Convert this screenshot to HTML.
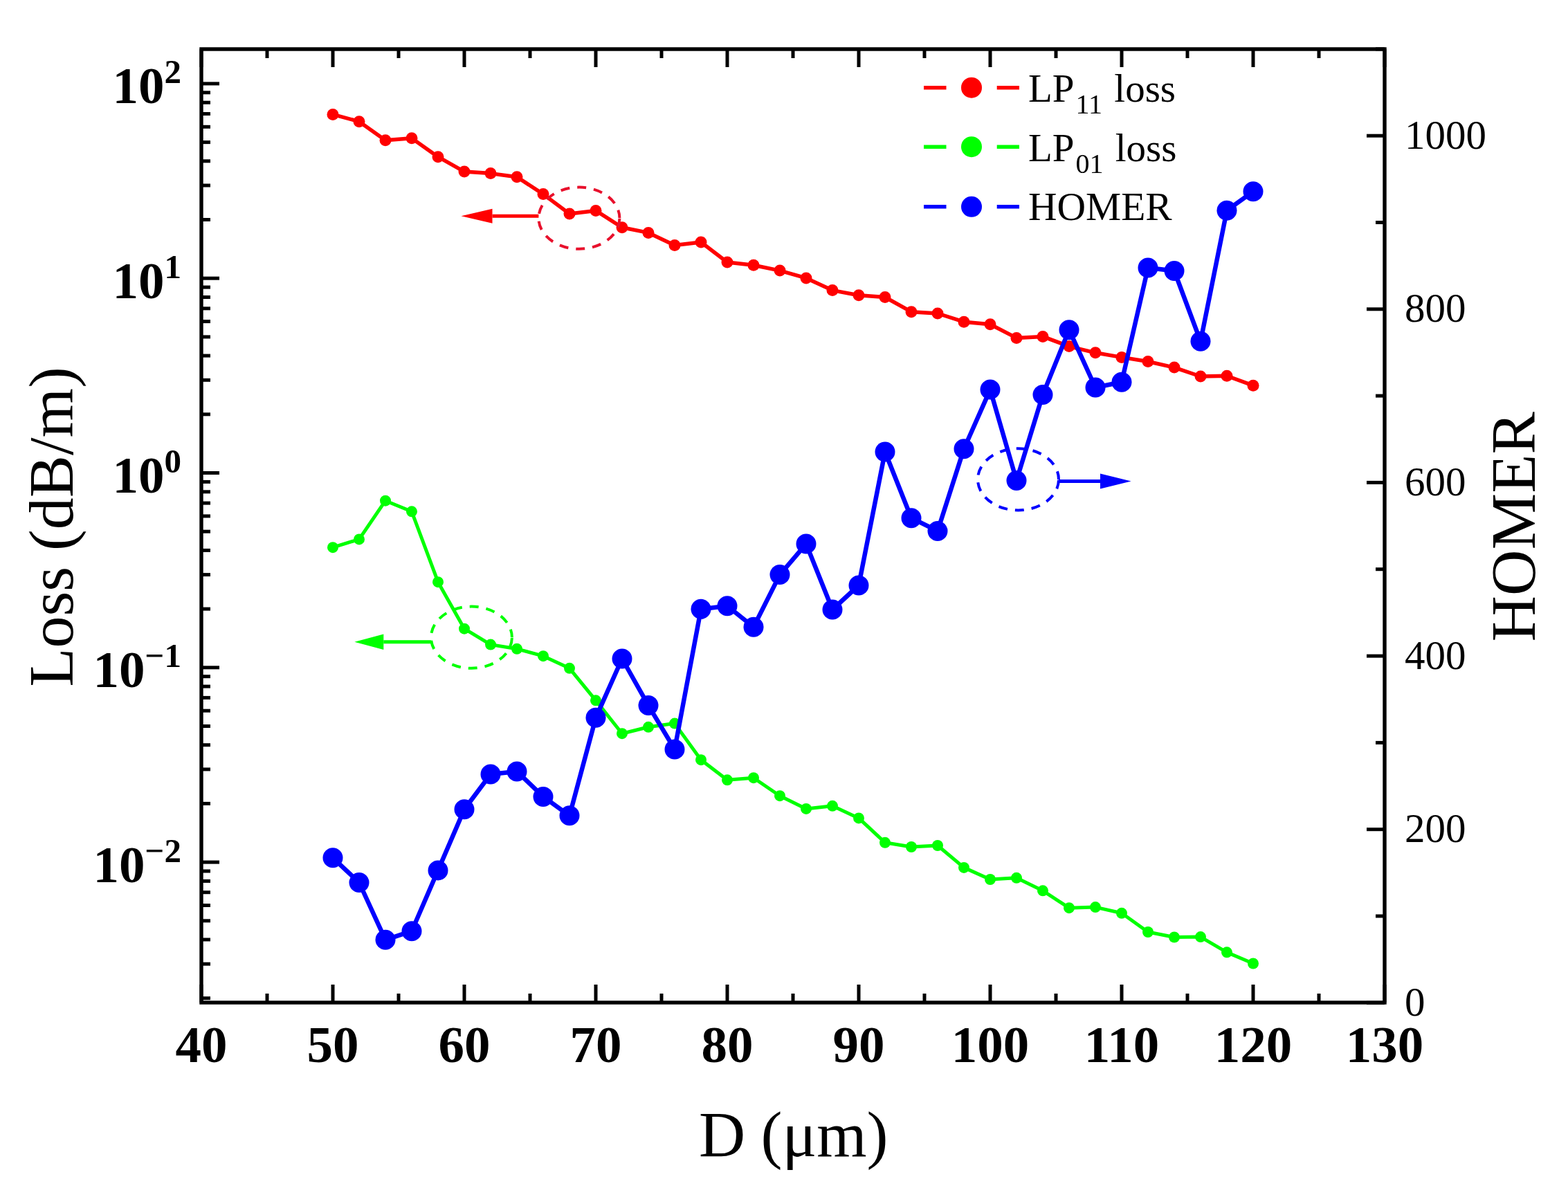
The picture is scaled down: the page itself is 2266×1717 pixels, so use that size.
<!DOCTYPE html>
<html><head><meta charset="utf-8"><title>Loss and HOMER vs D</title>
<style>html,body{margin:0;padding:0;background:#fff;width:2266px;height:1717px;overflow:hidden}svg{display:block}</style>
</head><body>
<svg width="2266" height="1717" viewBox="0 0 2266 1717">
<rect x="0" y="0" width="2266" height="1717" fill="#ffffff"/>
<polyline points="481.0,165.4 519.0,175.7 557.0,202.8 595.0,199.7 633.0,226.7 671.0,248.1 709.0,250.6 747.0,255.8 785.0,280.6 823.0,309.0 861.0,304.4 899.0,328.8 937.0,336.4 975.0,354.5 1013.0,349.9 1051.0,379.0 1089.0,383.2 1127.0,391.1 1165.0,401.9 1203.0,419.6 1241.0,426.8 1279.0,429.5 1317.0,450.7 1355.0,453.0 1393.0,465.2 1431.0,468.8 1469.0,488.4 1507.0,486.4 1545.0,500.6 1583.0,509.8 1621.0,516.4 1659.0,522.5 1697.0,531.1 1735.0,544.0 1773.0,543.3 1811.0,557.2" fill="none" stroke="#ff0000" stroke-width="5.5" stroke-linejoin="round"/>
<circle cx="481.0" cy="165.4" r="8.5" fill="#ff0000"/>
<circle cx="519.0" cy="175.7" r="8.5" fill="#ff0000"/>
<circle cx="557.0" cy="202.8" r="8.5" fill="#ff0000"/>
<circle cx="595.0" cy="199.7" r="8.5" fill="#ff0000"/>
<circle cx="633.0" cy="226.7" r="8.5" fill="#ff0000"/>
<circle cx="671.0" cy="248.1" r="8.5" fill="#ff0000"/>
<circle cx="709.0" cy="250.6" r="8.5" fill="#ff0000"/>
<circle cx="747.0" cy="255.8" r="8.5" fill="#ff0000"/>
<circle cx="785.0" cy="280.6" r="8.5" fill="#ff0000"/>
<circle cx="823.0" cy="309.0" r="8.5" fill="#ff0000"/>
<circle cx="861.0" cy="304.4" r="8.5" fill="#ff0000"/>
<circle cx="899.0" cy="328.8" r="8.5" fill="#ff0000"/>
<circle cx="937.0" cy="336.4" r="8.5" fill="#ff0000"/>
<circle cx="975.0" cy="354.5" r="8.5" fill="#ff0000"/>
<circle cx="1013.0" cy="349.9" r="8.5" fill="#ff0000"/>
<circle cx="1051.0" cy="379.0" r="8.5" fill="#ff0000"/>
<circle cx="1089.0" cy="383.2" r="8.5" fill="#ff0000"/>
<circle cx="1127.0" cy="391.1" r="8.5" fill="#ff0000"/>
<circle cx="1165.0" cy="401.9" r="8.5" fill="#ff0000"/>
<circle cx="1203.0" cy="419.6" r="8.5" fill="#ff0000"/>
<circle cx="1241.0" cy="426.8" r="8.5" fill="#ff0000"/>
<circle cx="1279.0" cy="429.5" r="8.5" fill="#ff0000"/>
<circle cx="1317.0" cy="450.7" r="8.5" fill="#ff0000"/>
<circle cx="1355.0" cy="453.0" r="8.5" fill="#ff0000"/>
<circle cx="1393.0" cy="465.2" r="8.5" fill="#ff0000"/>
<circle cx="1431.0" cy="468.8" r="8.5" fill="#ff0000"/>
<circle cx="1469.0" cy="488.4" r="8.5" fill="#ff0000"/>
<circle cx="1507.0" cy="486.4" r="8.5" fill="#ff0000"/>
<circle cx="1545.0" cy="500.6" r="8.5" fill="#ff0000"/>
<circle cx="1583.0" cy="509.8" r="8.5" fill="#ff0000"/>
<circle cx="1621.0" cy="516.4" r="8.5" fill="#ff0000"/>
<circle cx="1659.0" cy="522.5" r="8.5" fill="#ff0000"/>
<circle cx="1697.0" cy="531.1" r="8.5" fill="#ff0000"/>
<circle cx="1735.0" cy="544.0" r="8.5" fill="#ff0000"/>
<circle cx="1773.0" cy="543.3" r="8.5" fill="#ff0000"/>
<circle cx="1811.0" cy="557.2" r="8.5" fill="#ff0000"/>
<polyline points="481.0,791.2 519.0,779.4 557.0,723.7 595.0,739.3 633.0,841.2 671.0,908.7 709.0,931.6 747.0,937.8 785.0,948.2 823.0,965.8 861.0,1012.3 899.0,1060.2 937.0,1050.8 975.0,1045.6 1013.0,1098.2 1051.0,1127.3 1089.0,1124.2 1127.0,1150.2 1165.0,1168.9 1203.0,1164.8 1241.0,1182.4 1279.0,1217.8 1317.0,1224.0 1355.0,1222.0 1393.0,1253.9 1431.0,1271.0 1469.0,1268.8 1507.0,1287.3 1545.0,1312.2 1583.0,1311.1 1621.0,1319.8 1659.0,1347.0 1697.0,1354.5 1735.0,1354.1 1773.0,1376.3 1811.0,1392.5" fill="none" stroke="#00ff00" stroke-width="5" stroke-linejoin="round"/>
<circle cx="481.0" cy="791.2" r="8" fill="#00ff00"/>
<circle cx="519.0" cy="779.4" r="8" fill="#00ff00"/>
<circle cx="557.0" cy="723.7" r="8" fill="#00ff00"/>
<circle cx="595.0" cy="739.3" r="8" fill="#00ff00"/>
<circle cx="633.0" cy="841.2" r="8" fill="#00ff00"/>
<circle cx="671.0" cy="908.7" r="8" fill="#00ff00"/>
<circle cx="709.0" cy="931.6" r="8" fill="#00ff00"/>
<circle cx="747.0" cy="937.8" r="8" fill="#00ff00"/>
<circle cx="785.0" cy="948.2" r="8" fill="#00ff00"/>
<circle cx="823.0" cy="965.8" r="8" fill="#00ff00"/>
<circle cx="861.0" cy="1012.3" r="8" fill="#00ff00"/>
<circle cx="899.0" cy="1060.2" r="8" fill="#00ff00"/>
<circle cx="937.0" cy="1050.8" r="8" fill="#00ff00"/>
<circle cx="975.0" cy="1045.6" r="8" fill="#00ff00"/>
<circle cx="1013.0" cy="1098.2" r="8" fill="#00ff00"/>
<circle cx="1051.0" cy="1127.3" r="8" fill="#00ff00"/>
<circle cx="1089.0" cy="1124.2" r="8" fill="#00ff00"/>
<circle cx="1127.0" cy="1150.2" r="8" fill="#00ff00"/>
<circle cx="1165.0" cy="1168.9" r="8" fill="#00ff00"/>
<circle cx="1203.0" cy="1164.8" r="8" fill="#00ff00"/>
<circle cx="1241.0" cy="1182.4" r="8" fill="#00ff00"/>
<circle cx="1279.0" cy="1217.8" r="8" fill="#00ff00"/>
<circle cx="1317.0" cy="1224.0" r="8" fill="#00ff00"/>
<circle cx="1355.0" cy="1222.0" r="8" fill="#00ff00"/>
<circle cx="1393.0" cy="1253.9" r="8" fill="#00ff00"/>
<circle cx="1431.0" cy="1271.0" r="8" fill="#00ff00"/>
<circle cx="1469.0" cy="1268.8" r="8" fill="#00ff00"/>
<circle cx="1507.0" cy="1287.3" r="8" fill="#00ff00"/>
<circle cx="1545.0" cy="1312.2" r="8" fill="#00ff00"/>
<circle cx="1583.0" cy="1311.1" r="8" fill="#00ff00"/>
<circle cx="1621.0" cy="1319.8" r="8" fill="#00ff00"/>
<circle cx="1659.0" cy="1347.0" r="8" fill="#00ff00"/>
<circle cx="1697.0" cy="1354.5" r="8" fill="#00ff00"/>
<circle cx="1735.0" cy="1354.1" r="8" fill="#00ff00"/>
<circle cx="1773.0" cy="1376.3" r="8" fill="#00ff00"/>
<circle cx="1811.0" cy="1392.5" r="8" fill="#00ff00"/>
<polyline points="481.0,1239.8 519.0,1275.5 557.0,1358.3 595.0,1345.7 633.0,1257.9 671.0,1169.7 709.0,1119.0 747.0,1114.9 785.0,1151.4 823.0,1178.8 861.0,1037.3 899.0,952.0 937.0,1019.6 975.0,1083.0 1013.0,880.3 1051.0,875.7 1089.0,906.3 1127.0,830.6 1165.0,786.1 1203.0,881.0 1241.0,846.0 1279.0,653.0 1317.0,748.7 1355.0,767.4 1393.0,648.7 1431.0,563.1 1469.0,694.4 1507.0,570.5 1545.0,476.7 1583.0,560.0 1621.0,552.3 1659.0,386.9 1697.0,391.5 1735.0,493.3 1773.0,304.2 1811.0,276.8" fill="none" stroke="#0000ff" stroke-width="6.5" stroke-linejoin="round"/>
<circle cx="481.0" cy="1239.8" r="14.5" fill="#0000ff"/>
<circle cx="519.0" cy="1275.5" r="14.5" fill="#0000ff"/>
<circle cx="557.0" cy="1358.3" r="14.5" fill="#0000ff"/>
<circle cx="595.0" cy="1345.7" r="14.5" fill="#0000ff"/>
<circle cx="633.0" cy="1257.9" r="14.5" fill="#0000ff"/>
<circle cx="671.0" cy="1169.7" r="14.5" fill="#0000ff"/>
<circle cx="709.0" cy="1119.0" r="14.5" fill="#0000ff"/>
<circle cx="747.0" cy="1114.9" r="14.5" fill="#0000ff"/>
<circle cx="785.0" cy="1151.4" r="14.5" fill="#0000ff"/>
<circle cx="823.0" cy="1178.8" r="14.5" fill="#0000ff"/>
<circle cx="861.0" cy="1037.3" r="14.5" fill="#0000ff"/>
<circle cx="899.0" cy="952.0" r="14.5" fill="#0000ff"/>
<circle cx="937.0" cy="1019.6" r="14.5" fill="#0000ff"/>
<circle cx="975.0" cy="1083.0" r="14.5" fill="#0000ff"/>
<circle cx="1013.0" cy="880.3" r="14.5" fill="#0000ff"/>
<circle cx="1051.0" cy="875.7" r="14.5" fill="#0000ff"/>
<circle cx="1089.0" cy="906.3" r="14.5" fill="#0000ff"/>
<circle cx="1127.0" cy="830.6" r="14.5" fill="#0000ff"/>
<circle cx="1165.0" cy="786.1" r="14.5" fill="#0000ff"/>
<circle cx="1203.0" cy="881.0" r="14.5" fill="#0000ff"/>
<circle cx="1241.0" cy="846.0" r="14.5" fill="#0000ff"/>
<circle cx="1279.0" cy="653.0" r="14.5" fill="#0000ff"/>
<circle cx="1317.0" cy="748.7" r="14.5" fill="#0000ff"/>
<circle cx="1355.0" cy="767.4" r="14.5" fill="#0000ff"/>
<circle cx="1393.0" cy="648.7" r="14.5" fill="#0000ff"/>
<circle cx="1431.0" cy="563.1" r="14.5" fill="#0000ff"/>
<circle cx="1469.0" cy="694.4" r="14.5" fill="#0000ff"/>
<circle cx="1507.0" cy="570.5" r="14.5" fill="#0000ff"/>
<circle cx="1545.0" cy="476.7" r="14.5" fill="#0000ff"/>
<circle cx="1583.0" cy="560.0" r="14.5" fill="#0000ff"/>
<circle cx="1621.0" cy="552.3" r="14.5" fill="#0000ff"/>
<circle cx="1659.0" cy="386.9" r="14.5" fill="#0000ff"/>
<circle cx="1697.0" cy="391.5" r="14.5" fill="#0000ff"/>
<circle cx="1735.0" cy="493.3" r="14.5" fill="#0000ff"/>
<circle cx="1773.0" cy="304.2" r="14.5" fill="#0000ff"/>
<circle cx="1811.0" cy="276.8" r="14.5" fill="#0000ff"/>
<ellipse cx="836.9" cy="315.2" rx="58.5" ry="44.6" fill="none" stroke="#e8102c" stroke-width="4" stroke-dasharray="13 11" stroke-dashoffset="23.1"/>
<line x1="778.4" y1="312.3" x2="711.5" y2="312.3" stroke="#ff0000" stroke-width="5"/>
<path d="M666.5,312.3 L711.5,301.8 L711.5,322.8 Z" fill="#ff0000"/>
<ellipse cx="681.4" cy="921.2" rx="58.5" ry="44.6" fill="none" stroke="#00ff00" stroke-width="4" stroke-dasharray="13 11" stroke-dashoffset="23.1"/>
<line x1="622.9" y1="927.8" x2="554.3" y2="927.8" stroke="#00ff00" stroke-width="5"/>
<path d="M512.3,927.8 L554.3,916.5 L554.3,939.0999999999999 Z" fill="#00ff00"/>
<ellipse cx="1471.5" cy="692.9" rx="58.5" ry="44.6" fill="none" stroke="#0000ff" stroke-width="4" stroke-dasharray="13 11" stroke-dashoffset="23.1"/>
<line x1="1530" y1="695.6" x2="1590.0" y2="695.6" stroke="#0000ff" stroke-width="5"/>
<path d="M1634.6,695.6 L1590.0,684.6 L1590.0,706.6 Z" fill="#0000ff"/>
<rect x="291.0" y="71.0" width="1710.0" height="1378.0" fill="none" stroke="#000" stroke-width="5.4"/>
<line x1="291.0" y1="1449.0" x2="291.0" y2="1423.0" stroke="#000" stroke-width="5"/>
<line x1="291.0" y1="71.0" x2="291.0" y2="97.0" stroke="#000" stroke-width="5"/>
<line x1="386.0" y1="1449.0" x2="386.0" y2="1436.0" stroke="#000" stroke-width="5"/>
<line x1="386.0" y1="71.0" x2="386.0" y2="84.0" stroke="#000" stroke-width="5"/>
<line x1="481.0" y1="1449.0" x2="481.0" y2="1423.0" stroke="#000" stroke-width="5"/>
<line x1="481.0" y1="71.0" x2="481.0" y2="97.0" stroke="#000" stroke-width="5"/>
<line x1="576.0" y1="1449.0" x2="576.0" y2="1436.0" stroke="#000" stroke-width="5"/>
<line x1="576.0" y1="71.0" x2="576.0" y2="84.0" stroke="#000" stroke-width="5"/>
<line x1="671.0" y1="1449.0" x2="671.0" y2="1423.0" stroke="#000" stroke-width="5"/>
<line x1="671.0" y1="71.0" x2="671.0" y2="97.0" stroke="#000" stroke-width="5"/>
<line x1="766.0" y1="1449.0" x2="766.0" y2="1436.0" stroke="#000" stroke-width="5"/>
<line x1="766.0" y1="71.0" x2="766.0" y2="84.0" stroke="#000" stroke-width="5"/>
<line x1="861.0" y1="1449.0" x2="861.0" y2="1423.0" stroke="#000" stroke-width="5"/>
<line x1="861.0" y1="71.0" x2="861.0" y2="97.0" stroke="#000" stroke-width="5"/>
<line x1="956.0" y1="1449.0" x2="956.0" y2="1436.0" stroke="#000" stroke-width="5"/>
<line x1="956.0" y1="71.0" x2="956.0" y2="84.0" stroke="#000" stroke-width="5"/>
<line x1="1051.0" y1="1449.0" x2="1051.0" y2="1423.0" stroke="#000" stroke-width="5"/>
<line x1="1051.0" y1="71.0" x2="1051.0" y2="97.0" stroke="#000" stroke-width="5"/>
<line x1="1146.0" y1="1449.0" x2="1146.0" y2="1436.0" stroke="#000" stroke-width="5"/>
<line x1="1146.0" y1="71.0" x2="1146.0" y2="84.0" stroke="#000" stroke-width="5"/>
<line x1="1241.0" y1="1449.0" x2="1241.0" y2="1423.0" stroke="#000" stroke-width="5"/>
<line x1="1241.0" y1="71.0" x2="1241.0" y2="97.0" stroke="#000" stroke-width="5"/>
<line x1="1336.0" y1="1449.0" x2="1336.0" y2="1436.0" stroke="#000" stroke-width="5"/>
<line x1="1336.0" y1="71.0" x2="1336.0" y2="84.0" stroke="#000" stroke-width="5"/>
<line x1="1431.0" y1="1449.0" x2="1431.0" y2="1423.0" stroke="#000" stroke-width="5"/>
<line x1="1431.0" y1="71.0" x2="1431.0" y2="97.0" stroke="#000" stroke-width="5"/>
<line x1="1526.0" y1="1449.0" x2="1526.0" y2="1436.0" stroke="#000" stroke-width="5"/>
<line x1="1526.0" y1="71.0" x2="1526.0" y2="84.0" stroke="#000" stroke-width="5"/>
<line x1="1621.0" y1="1449.0" x2="1621.0" y2="1423.0" stroke="#000" stroke-width="5"/>
<line x1="1621.0" y1="71.0" x2="1621.0" y2="97.0" stroke="#000" stroke-width="5"/>
<line x1="1716.0" y1="1449.0" x2="1716.0" y2="1436.0" stroke="#000" stroke-width="5"/>
<line x1="1716.0" y1="71.0" x2="1716.0" y2="84.0" stroke="#000" stroke-width="5"/>
<line x1="1811.0" y1="1449.0" x2="1811.0" y2="1423.0" stroke="#000" stroke-width="5"/>
<line x1="1811.0" y1="71.0" x2="1811.0" y2="97.0" stroke="#000" stroke-width="5"/>
<line x1="1906.0" y1="1449.0" x2="1906.0" y2="1436.0" stroke="#000" stroke-width="5"/>
<line x1="1906.0" y1="71.0" x2="1906.0" y2="84.0" stroke="#000" stroke-width="5"/>
<line x1="2001.0" y1="1449.0" x2="2001.0" y2="1423.0" stroke="#000" stroke-width="5"/>
<line x1="2001.0" y1="71.0" x2="2001.0" y2="97.0" stroke="#000" stroke-width="5"/>
<line x1="291.0" y1="1442.7" x2="304.0" y2="1442.7" stroke="#000" stroke-width="5"/>
<line x1="291.0" y1="1393.2" x2="304.0" y2="1393.2" stroke="#000" stroke-width="5"/>
<line x1="291.0" y1="1358.0" x2="304.0" y2="1358.0" stroke="#000" stroke-width="5"/>
<line x1="291.0" y1="1330.8" x2="304.0" y2="1330.8" stroke="#000" stroke-width="5"/>
<line x1="291.0" y1="1308.5" x2="304.0" y2="1308.5" stroke="#000" stroke-width="5"/>
<line x1="291.0" y1="1289.7" x2="304.0" y2="1289.7" stroke="#000" stroke-width="5"/>
<line x1="291.0" y1="1273.4" x2="304.0" y2="1273.4" stroke="#000" stroke-width="5"/>
<line x1="291.0" y1="1259.0" x2="304.0" y2="1259.0" stroke="#000" stroke-width="5"/>
<line x1="291.0" y1="1246.1" x2="317.0" y2="1246.1" stroke="#000" stroke-width="5"/>
<line x1="291.0" y1="1161.4" x2="304.0" y2="1161.4" stroke="#000" stroke-width="5"/>
<line x1="291.0" y1="1111.9" x2="304.0" y2="1111.9" stroke="#000" stroke-width="5"/>
<line x1="291.0" y1="1076.7" x2="304.0" y2="1076.7" stroke="#000" stroke-width="5"/>
<line x1="291.0" y1="1049.5" x2="304.0" y2="1049.5" stroke="#000" stroke-width="5"/>
<line x1="291.0" y1="1027.2" x2="304.0" y2="1027.2" stroke="#000" stroke-width="5"/>
<line x1="291.0" y1="1008.4" x2="304.0" y2="1008.4" stroke="#000" stroke-width="5"/>
<line x1="291.0" y1="992.1" x2="304.0" y2="992.1" stroke="#000" stroke-width="5"/>
<line x1="291.0" y1="977.7" x2="304.0" y2="977.7" stroke="#000" stroke-width="5"/>
<line x1="291.0" y1="964.8" x2="317.0" y2="964.8" stroke="#000" stroke-width="5"/>
<line x1="291.0" y1="880.1" x2="304.0" y2="880.1" stroke="#000" stroke-width="5"/>
<line x1="291.0" y1="830.6" x2="304.0" y2="830.6" stroke="#000" stroke-width="5"/>
<line x1="291.0" y1="795.4" x2="304.0" y2="795.4" stroke="#000" stroke-width="5"/>
<line x1="291.0" y1="768.2" x2="304.0" y2="768.2" stroke="#000" stroke-width="5"/>
<line x1="291.0" y1="745.9" x2="304.0" y2="745.9" stroke="#000" stroke-width="5"/>
<line x1="291.0" y1="727.1" x2="304.0" y2="727.1" stroke="#000" stroke-width="5"/>
<line x1="291.0" y1="710.8" x2="304.0" y2="710.8" stroke="#000" stroke-width="5"/>
<line x1="291.0" y1="696.4" x2="304.0" y2="696.4" stroke="#000" stroke-width="5"/>
<line x1="291.0" y1="683.5" x2="317.0" y2="683.5" stroke="#000" stroke-width="5"/>
<line x1="291.0" y1="598.8" x2="304.0" y2="598.8" stroke="#000" stroke-width="5"/>
<line x1="291.0" y1="549.3" x2="304.0" y2="549.3" stroke="#000" stroke-width="5"/>
<line x1="291.0" y1="514.1" x2="304.0" y2="514.1" stroke="#000" stroke-width="5"/>
<line x1="291.0" y1="486.9" x2="304.0" y2="486.9" stroke="#000" stroke-width="5"/>
<line x1="291.0" y1="464.6" x2="304.0" y2="464.6" stroke="#000" stroke-width="5"/>
<line x1="291.0" y1="445.8" x2="304.0" y2="445.8" stroke="#000" stroke-width="5"/>
<line x1="291.0" y1="429.5" x2="304.0" y2="429.5" stroke="#000" stroke-width="5"/>
<line x1="291.0" y1="415.1" x2="304.0" y2="415.1" stroke="#000" stroke-width="5"/>
<line x1="291.0" y1="402.2" x2="317.0" y2="402.2" stroke="#000" stroke-width="5"/>
<line x1="291.0" y1="317.5" x2="304.0" y2="317.5" stroke="#000" stroke-width="5"/>
<line x1="291.0" y1="268.0" x2="304.0" y2="268.0" stroke="#000" stroke-width="5"/>
<line x1="291.0" y1="232.8" x2="304.0" y2="232.8" stroke="#000" stroke-width="5"/>
<line x1="291.0" y1="205.6" x2="304.0" y2="205.6" stroke="#000" stroke-width="5"/>
<line x1="291.0" y1="183.3" x2="304.0" y2="183.3" stroke="#000" stroke-width="5"/>
<line x1="291.0" y1="164.5" x2="304.0" y2="164.5" stroke="#000" stroke-width="5"/>
<line x1="291.0" y1="148.2" x2="304.0" y2="148.2" stroke="#000" stroke-width="5"/>
<line x1="291.0" y1="133.8" x2="304.0" y2="133.8" stroke="#000" stroke-width="5"/>
<line x1="291.0" y1="120.9" x2="317.0" y2="120.9" stroke="#000" stroke-width="5"/>
<line x1="2001.0" y1="1449.3" x2="1975.0" y2="1449.3" stroke="#000" stroke-width="5"/>
<line x1="2001.0" y1="1324.0" x2="1988.0" y2="1324.0" stroke="#000" stroke-width="5"/>
<line x1="2001.0" y1="1198.7" x2="1975.0" y2="1198.7" stroke="#000" stroke-width="5"/>
<line x1="2001.0" y1="1073.4" x2="1988.0" y2="1073.4" stroke="#000" stroke-width="5"/>
<line x1="2001.0" y1="948.1" x2="1975.0" y2="948.1" stroke="#000" stroke-width="5"/>
<line x1="2001.0" y1="822.7" x2="1988.0" y2="822.7" stroke="#000" stroke-width="5"/>
<line x1="2001.0" y1="697.4" x2="1975.0" y2="697.4" stroke="#000" stroke-width="5"/>
<line x1="2001.0" y1="572.1" x2="1988.0" y2="572.1" stroke="#000" stroke-width="5"/>
<line x1="2001.0" y1="446.8" x2="1975.0" y2="446.8" stroke="#000" stroke-width="5"/>
<line x1="2001.0" y1="321.5" x2="1988.0" y2="321.5" stroke="#000" stroke-width="5"/>
<line x1="2001.0" y1="196.2" x2="1975.0" y2="196.2" stroke="#000" stroke-width="5"/>
<line x1="2001.0" y1="70.9" x2="1988.0" y2="70.9" stroke="#000" stroke-width="5"/>
<text x="291.0" y="1535" text-anchor="middle" style="font-family:'Liberation Serif','Times New Roman',serif;font-weight:bold;font-size:75px">40</text>
<text x="481.0" y="1535" text-anchor="middle" style="font-family:'Liberation Serif','Times New Roman',serif;font-weight:bold;font-size:75px">50</text>
<text x="671.0" y="1535" text-anchor="middle" style="font-family:'Liberation Serif','Times New Roman',serif;font-weight:bold;font-size:75px">60</text>
<text x="861.0" y="1535" text-anchor="middle" style="font-family:'Liberation Serif','Times New Roman',serif;font-weight:bold;font-size:75px">70</text>
<text x="1051.0" y="1535" text-anchor="middle" style="font-family:'Liberation Serif','Times New Roman',serif;font-weight:bold;font-size:75px">80</text>
<text x="1241.0" y="1535" text-anchor="middle" style="font-family:'Liberation Serif','Times New Roman',serif;font-weight:bold;font-size:75px">90</text>
<text x="1431.0" y="1535" text-anchor="middle" style="font-family:'Liberation Serif','Times New Roman',serif;font-weight:bold;font-size:75px">100</text>
<text x="1621.0" y="1535" text-anchor="middle" style="font-family:'Liberation Serif','Times New Roman',serif;font-weight:bold;font-size:75px">110</text>
<text x="1811.0" y="1535" text-anchor="middle" style="font-family:'Liberation Serif','Times New Roman',serif;font-weight:bold;font-size:75px">120</text>
<text x="2001.0" y="1535" text-anchor="middle" style="font-family:'Liberation Serif','Times New Roman',serif;font-weight:bold;font-size:75px">130</text>
<text x="262" y="149.4" text-anchor="end" style="font-family:'Liberation Serif','Times New Roman',serif;font-weight:bold;font-size:75px">10<tspan dy="-29" style="font-size:49px">2</tspan></text>
<text x="262" y="430.7" text-anchor="end" style="font-family:'Liberation Serif','Times New Roman',serif;font-weight:bold;font-size:75px">10<tspan dy="-29" style="font-size:49px">1</tspan></text>
<text x="262" y="712.0" text-anchor="end" style="font-family:'Liberation Serif','Times New Roman',serif;font-weight:bold;font-size:75px">10<tspan dy="-29" style="font-size:49px">0</tspan></text>
<text x="262" y="993.3" text-anchor="end" style="font-family:'Liberation Serif','Times New Roman',serif;font-weight:bold;font-size:75px">10<tspan dy="-29" style="font-size:49px">−1</tspan></text>
<text x="262" y="1274.6" text-anchor="end" style="font-family:'Liberation Serif','Times New Roman',serif;font-weight:bold;font-size:75px">10<tspan dy="-29" style="font-size:49px">−2</tspan></text>
<text x="2030" y="1467.8" style="font-family:'Liberation Serif','Times New Roman',serif;font-size:59px">0</text>
<text x="2030" y="1217.2" style="font-family:'Liberation Serif','Times New Roman',serif;font-size:59px">200</text>
<text x="2030" y="966.6" style="font-family:'Liberation Serif','Times New Roman',serif;font-size:59px">400</text>
<text x="2030" y="715.9" style="font-family:'Liberation Serif','Times New Roman',serif;font-size:59px">600</text>
<text x="2030" y="465.3" style="font-family:'Liberation Serif','Times New Roman',serif;font-size:59px">800</text>
<text x="2030" y="214.7" style="font-family:'Liberation Serif','Times New Roman',serif;font-size:59px">1000</text>
<text x="1014" y="1670.7" style="font-family:'Liberation Serif','Times New Roman',serif;font-size:93px"><tspan dx="-4">D</tspan><tspan dx="-1"> (μm)</tspan></text>
<text transform="translate(104.5,761.5) rotate(-90)" text-anchor="middle" style="font-family:'Liberation Serif','Times New Roman',serif;font-size:92px">Loss (dB/m)</text>
<text transform="translate(2218,761.3) rotate(-90)" text-anchor="middle" style="font-family:'Liberation Serif','Times New Roman',serif;font-size:92px">HOMER</text>
<line x1="1335" y1="126.7" x2="1367.5" y2="126.7" stroke="#ff0000" stroke-width="5.5"/>
<line x1="1440.7" y1="126.7" x2="1473" y2="126.7" stroke="#ff0000" stroke-width="5.5"/>
<circle cx="1404" cy="126.7" r="15" fill="#ff0000"/>
<text x="1486" y="146.7" style="font-family:'Liberation Serif','Times New Roman',serif;font-size:57px">LP<tspan dx="2" dy="17.5" style="font-size:40px">11</tspan><tspan dx="3" dy="-17.5"> loss</tspan></text>
<line x1="1335" y1="212.2" x2="1367.5" y2="212.2" stroke="#00ff00" stroke-width="5.5"/>
<line x1="1440.7" y1="212.2" x2="1473" y2="212.2" stroke="#00ff00" stroke-width="5.5"/>
<circle cx="1404" cy="212.2" r="15" fill="#00ff00"/>
<text x="1486" y="232.8" style="font-family:'Liberation Serif','Times New Roman',serif;font-size:57px">LP<tspan dx="2" dy="17.5" style="font-size:40px">01</tspan><tspan dx="3" dy="-17.5"> loss</tspan></text>
<line x1="1335" y1="298.8" x2="1367.5" y2="298.8" stroke="#0000ff" stroke-width="5.5"/>
<line x1="1440.7" y1="298.8" x2="1473" y2="298.8" stroke="#0000ff" stroke-width="5.5"/>
<circle cx="1404" cy="298.8" r="15" fill="#0000ff"/>
<text x="1486" y="317.8" style="font-family:'Liberation Serif','Times New Roman',serif;font-size:57.5px">HOMER</text>
</svg>
</body></html>
